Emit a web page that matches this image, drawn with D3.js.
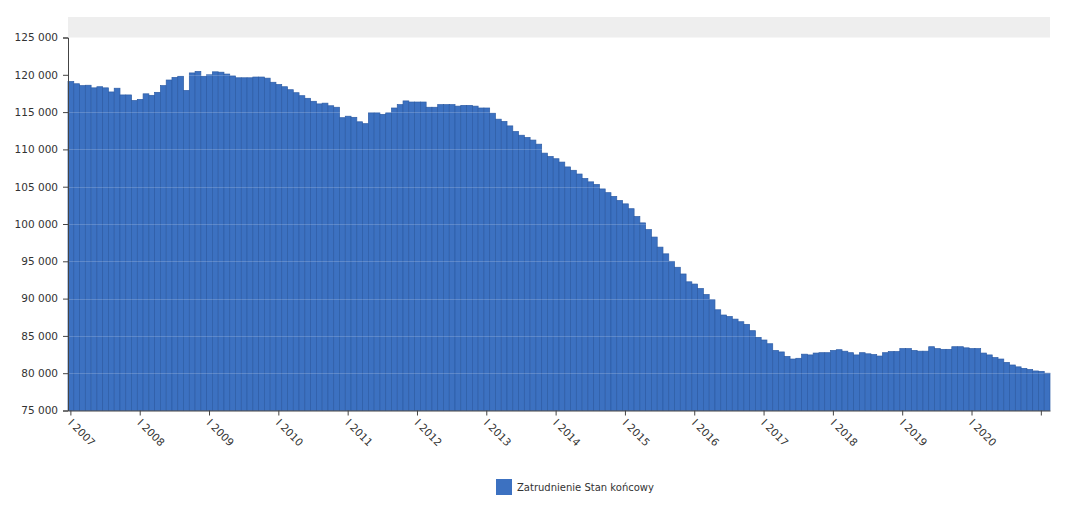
<!DOCTYPE html>
<html>
<head>
<meta charset="utf-8">
<script src="https://cdn.jsdelivr.net/npm/d3@7/dist/d3.min.js"></script>
<style>
  html, body { margin: 0; padding: 0; background: #fff; }
  svg text { font-family: "DejaVu Sans", Verdana, sans-serif; fill: #333; }
</style>
</head>
<body>
<svg id="chart" width="1068" height="514"></svg>
<script>
// ---- DATA ----
const years = [2007, 2008, 2009, 2010, 2011, 2012, 2013, 2014, 2015, 2016, 2017, 2018, 2019, 2020, 2021];
const monthNames = ["I", "II", "III", "IV", "V", "VI", "VII", "VIII", "IX", "X", "XI", "XII"];
const seriesName = "Zatrudnienie Stan końcowy";
const values = [
  // 2007
  119100, 118800, 118550, 118600, 118250, 118400, 118250, 117700, 118200, 117300, 117300, 116550,
  // 2008
  116700, 117450, 117250, 117650, 118550, 119300, 119650, 119800, 117900, 120250, 120450, 119800,
  // 2009
  120000, 120400, 120350, 120100, 119850, 119600, 119600, 119600, 119700, 119700, 119550, 119000,
  // 2010
  118700, 118400, 118000, 117600, 117200, 116850, 116450, 116100, 116200, 115850, 115650, 114250,
  // 2011
  114450, 114300, 113700, 113450, 114900, 114900, 114700, 114900, 115550, 116000, 116500, 116350,
  // 2012
  116350, 116350, 115650, 115650, 116000, 116000, 116000, 115800, 115900, 115900, 115800, 115550,
  // 2013
  115550, 114850, 114050, 113750, 113150, 112400, 111900, 111600, 111250, 110700, 109500, 109050,
  // 2014
  108750, 108300, 107650, 107200, 106700, 106100, 105650, 105300, 104700, 104200, 103700, 103150,
  // 2015
  102700, 102050, 101000, 100150, 99250, 98250, 96900, 96000, 95000, 94200, 93300, 92250,
  // 2016
  91950, 91350, 90550, 89850, 88500, 87800, 87600, 87250, 86900, 86550, 85700, 84800,
  // 2017
  84450, 83950, 83050, 82850, 82250, 81900, 82000, 82550, 82450, 82700, 82750, 82750,
  // 2018
  83050, 83150, 82950, 82750, 82450, 82750, 82600, 82500, 82300, 82750, 82900, 82900,
  // 2019
  83300, 83300, 83050, 82950, 82950, 83550, 83300, 83200, 83200, 83550, 83550, 83400,
  // 2020
  83300, 83300, 82700, 82450, 82100, 81900, 81450, 81100, 80850, 80650, 80500, 80300,
  // 2021
  80250, 80000
];
const yTicks = [75000, 80000, 85000, 90000, 95000, 100000, 105000, 110000, 115000, 120000, 125000];
const labeledYears = [2007, 2008, 2009, 2010, 2011, 2012, 2013, 2014, 2015, 2016, 2017, 2018, 2019, 2020];

// categories "I 2007", "II 2007", ...
const categories = [];
years.forEach(yr => monthNames.forEach(m => categories.push(m + " " + yr)));
categories.length = values.length;
const data = categories.map((c, i) => ({ cat: c, value: values[i] }));

// ---- LAYOUT ----
const svg = d3.select("#chart");
const plotL = 68, plotR = 1050, plotT = 37.5, plotB = 410.5;

const x = d3.scaleBand().domain(categories).range([plotL, plotR]).paddingInner(0).paddingOuter(0);
const y = d3.scaleLinear().domain([75000, 125000]).range([plotB, plotT]);

const fmt = v => d3.format(",")(v).replace(/,/g, " ");

// scrollbar band on top
svg.append("rect")
  .attr("x", plotL).attr("y", 17).attr("width", plotR - plotL).attr("height", 20.5)
  .attr("fill", "#eeeeee");

// bars
svg.append("g").selectAll("rect").data(data).join("rect")
  .attr("x", d => x(d.cat))
  .attr("y", d => y(d.value))
  .attr("width", x.bandwidth())
  .attr("height", d => plotB - y(d.value))
  .attr("fill", "#3c71c1")
  .attr("stroke", "#2d5ca5")
  .attr("stroke-width", 0.7);

// gridlines over bars
svg.append("g").selectAll("line").data(yTicks.filter(t => t > 75000 && t < 125000)).join("line")
  .attr("x1", plotL).attr("x2", plotR)
  .attr("y1", d => Math.round(y(d)) + 0.5).attr("y2", d => Math.round(y(d)) + 0.5)
  .attr("stroke", "#ffffff").attr("stroke-opacity", 0.18);

// y axis
const yAxis = d3.axisLeft(y).tickValues(yTicks).tickFormat(fmt).tickSize(5).tickPadding(5);
const gy = svg.append("g").attr("transform", `translate(${plotL},0)`).call(yAxis);
gy.select(".domain").attr("stroke", "#444");
gy.selectAll(".tick line").attr("stroke", "#444");
gy.selectAll(".tick text").style("font-size", "10.5px").attr("fill", "#333");

// x axis
const janCats = categories.filter(c => c.startsWith("I "));
const xAxis = d3.axisBottom(x).tickValues(janCats)
  .tickFormat(c => labeledYears.includes(+c.split(" ")[1]) ? c : "")
  .tickSize(5).tickSizeOuter(0);
const gx = svg.append("g").attr("transform", `translate(0,${plotB})`).call(xAxis);
gx.select(".domain").attr("stroke", "#444");
gx.selectAll(".tick line").attr("stroke", "#444");
gx.selectAll(".tick text")
  .style("font-size", "10.5px").attr("fill", "#3a3a3a")
  .attr("text-anchor", "start")
  .attr("x", 0).attr("y", 0).attr("dy", 0)
  .attr("transform", "translate(-3.5,13) rotate(45)");

// legend
const lg = svg.append("g").attr("transform", "translate(496,479)");
lg.append("rect").attr("width", 16).attr("height", 16).attr("fill", "#3c71c1");
lg.append("text").attr("x", 21).attr("y", 12).style("font-size", "10px").text(seriesName);
</script>
</body>
</html>
